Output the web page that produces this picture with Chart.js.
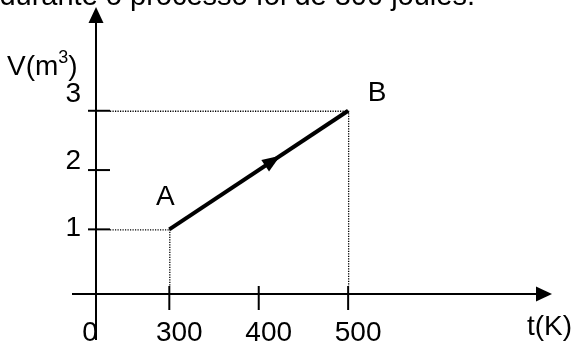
<!DOCTYPE html>
<html>
<head>
<meta charset="utf-8">
<script src="https://cdn.jsdelivr.net/npm/chart.js"></script>
<style>
  html, body { margin: 0; padding: 0; background: #fff; }
  #chart { display: block; }
</style>
</head>
<body>
<canvas id="chart" width="577" height="342"></canvas>
<script>
// --- データ ---
const tValues = [300, 500];          // 温度 t(K)
const vValues = [1, 3];              // 体積 V(m^3)
const pointNames = ['A', 'B'];
const tTicks = [300, 400, 500];
const vTicks = [1, 2, 3];
const originLabel = '0';
const captionText = 'durante o processo foi de 800 joules.';

// --- 見た目 ---
const FONT = '"Liberation Sans", Arial, sans-serif';
const INK = '#000';
// 縦軸が交わる位置（軸は 0 から 300 の間が省略されている）
const T_AT_AXIS = 218;
const V_AT_AXIS = -0.09;
// 目盛りラベルの縦方向のずれ（元の図に合わせる）
const vLabelLift = [1, 9, 16];

function line(ctx, x1, y1, x2, y2) {
  ctx.beginPath();
  ctx.moveTo(x1, y1);
  ctx.lineTo(x2, y2);
  ctx.stroke();
}

function triangle(ctx, tipX, tipY, angle, len, half) {
  const bx = tipX - Math.cos(angle) * len;
  const by = tipY - Math.sin(angle) * len;
  const nx = -Math.sin(angle) * half;
  const ny = Math.cos(angle) * half;
  ctx.beginPath();
  ctx.moveTo(tipX, tipY);
  ctx.lineTo(bx + nx, by + ny);
  ctx.lineTo(bx - nx, by - ny);
  ctx.closePath();
  ctx.fill();
}

const diagramPlugin = {
  id: 'diagram',
  beforeDatasetsDraw(chart) {
    const { ctx, scales: { x, y } } = chart;
    const x0 = x.getPixelForValue(T_AT_AXIS);
    const y0 = y.getPixelForValue(V_AT_AXIS);
    ctx.save();
    ctx.strokeStyle = '#000';
    ctx.lineWidth = 1.3;
    ctx.setLineDash([1.2, 1.3]);
    tValues.forEach((t, i) => {
      const px = x.getPixelForValue(t);
      const py = y.getPixelForValue(vValues[i]);
      line(ctx, x0 + 14, py + 0.5, px, py + 0.5);
      line(ctx, px + 0.5, py, px + 0.5, y0 - 8);
    });
    ctx.restore();
  },
  afterDatasetsDraw(chart) {
    const { ctx, scales: { x, y } } = chart;
    const x0 = x.getPixelForValue(T_AT_AXIS);
    const y0 = y.getPixelForValue(V_AT_AXIS);
    const xEnd = x.right;
    const yTop = y.top;
    ctx.save();
    ctx.strokeStyle = INK;
    ctx.fillStyle = INK;
    ctx.lineWidth = 2;

    // 軸
    line(ctx, x0 - 24, y0, xEnd - 10, y0);
    line(ctx, x0, chart.height - 2, x0, yTop + 10);
    triangle(ctx, xEnd, y0, 0, 16, 7.5);
    triangle(ctx, x0, yTop, -Math.PI / 2, 16, 7.5);

    // 目盛り
    tTicks.forEach(t => {
      const px = x.getPixelForValue(t);
      line(ctx, px, y0 - 8, px, y0 + 16);
    });
    vTicks.forEach(v => {
      const py = y.getPixelForValue(v);
      line(ctx, x0 - 8, py, x0 + 14, py);
    });

    // 線上の向きを示す矢印
    const ax = x.getPixelForValue(tValues[0]), ay = y.getPixelForValue(vValues[0]);
    const bx = x.getPixelForValue(tValues[1]), by = y.getPixelForValue(vValues[1]);
    const ang = Math.atan2(by - ay, bx - ax);
    const f = 0.62;
    triangle(ctx, ax + (bx - ax) * f, ay + (by - ay) * f, ang, 18, 7);

    // ラベル
    ctx.font = '28px ' + FONT;
    ctx.textBaseline = 'alphabetic';
    ctx.textAlign = 'center';
    tTicks.forEach(t => {
      ctx.fillText(String(t), x.getPixelForValue(t) + 10, 341);
    });
    ctx.fillText(originLabel, x0 - 6, 341);

    ctx.textAlign = 'right';
    ctx.textBaseline = 'middle';
    vTicks.forEach((v, i) => {
      ctx.fillText(String(v), x0 - 15, y.getPixelForValue(v) - vLabelLift[i]);
    });

    ctx.textAlign = 'center';
    const shifts = [[-4, -32], [29, -17]];
    pointNames.forEach((name, i) => {
      const px = x.getPixelForValue(tValues[i]);
      const py = y.getPixelForValue(vValues[i]);
      ctx.fillText(name, px + shifts[i][0], py + shifts[i][1]);
    });

    // 軸タイトル
    ctx.textAlign = 'left';
    ctx.textBaseline = 'alphabetic';
    ctx.fillText('V(m', 7, 75);
    let w = ctx.measureText('V(m').width;
    ctx.font = '18px ' + FONT;
    ctx.fillText('3', 7 + w, 63);
    const w3 = ctx.measureText('3').width;
    ctx.font = '28px ' + FONT;
    ctx.fillText(')', 7 + w + w3, 75);
    ctx.fillText('t(K)', 527, 335);

    // 上の切れた文
    ctx.font = '29px ' + FONT;
    ctx.textAlign = 'right';
    ctx.fillText(captionText, 475, 5);
    ctx.restore();
  }
};

new Chart(document.getElementById('chart'), {
  type: 'line',
  data: {
    datasets: [{
      data: tValues.map((t, i) => ({ x: t, y: vValues[i] })),
      borderColor: INK,
      borderWidth: 4,
      pointRadius: 0,
      fill: false
    }]
  },
  options: {
    responsive: false,
    animation: false,
    devicePixelRatio: 1,
    layout: { padding: { left: 96, right: 25, top: 7, bottom: 48 } },
    scales: {
      x: { type: 'linear', min: T_AT_AXIS, max: 728, display: false },
      y: { type: 'linear', min: V_AT_AXIS, max: 4.75, display: false }
    },
    plugins: { legend: { display: false }, tooltip: { enabled: false } }
  },
  plugins: [diagramPlugin]
});
</script>
</body>
</html>
